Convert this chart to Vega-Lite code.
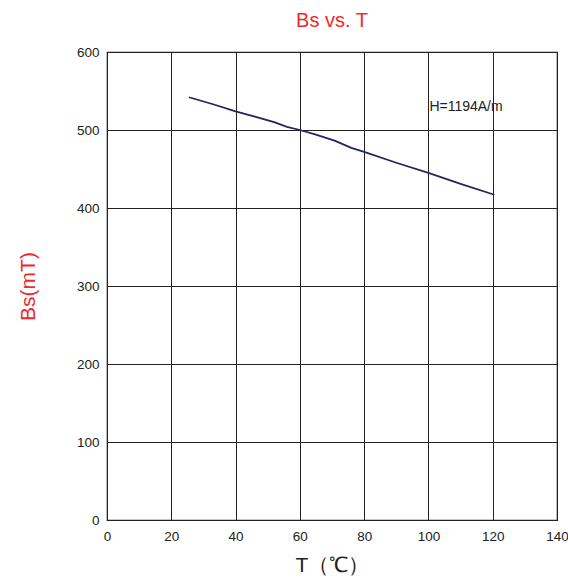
{
  "$schema": "https://vega.github.io/schema/vega-lite/v6.json",
  "autosize": "none",
  "padding": {"left": 107, "top": 52, "right": 11, "bottom": 64},
  "width": 450,
  "height": 468,
  "background": "white",
  "config": {
    "font": "Liberation Sans",
    "view": {"stroke": "#222", "strokeWidth": 1.2},
    "axis": {"gridColor": "#222", "gridOpacity": 1, "gridWidth": 1, "domain": false, "ticks": false, "labelFontSize": 13.5, "labelColor": "#222", "labelFont": "Liberation Sans", "labelFlush": false, "labelOverlap": false}
  },
  "title": {"text": "Bs vs. T", "color": "#ee2a2a", "fontSize": 20, "fontWeight": "normal", "offset": 14, "anchor": "middle", "font": "Liberation Sans"},
  "data": {"values": [
    {"T": 25.5, "Bs": 542},
    {"T": 33, "Bs": 533},
    {"T": 40, "Bs": 524},
    {"T": 46, "Bs": 517},
    {"T": 52, "Bs": 510},
    {"T": 56, "Bs": 504},
    {"T": 60, "Bs": 500},
    {"T": 65, "Bs": 494},
    {"T": 71, "Bs": 486},
    {"T": 76, "Bs": 477},
    {"T": 80, "Bs": 472},
    {"T": 90, "Bs": 458},
    {"T": 100, "Bs": 445},
    {"T": 110, "Bs": 431},
    {"T": 120.5, "Bs": 417}
  ]},
  "layer": [
    {
      "mark": {"type": "line", "color": "#23265e", "strokeWidth": 1.8},
      "encoding": {
        "x": {"field": "T", "type": "quantitative", "scale": {"domain": [0, 140], "nice": false}, "axis": {"values": [0, 20, 40, 60, 80, 100, 120, 140], "title": "T（℃）", "titleFontSize": 21, "titleFontWeight": "normal", "titleColor": "#222", "titlePadding": 12, "labelPadding": 9}},
        "y": {"field": "Bs", "type": "quantitative", "scale": {"domain": [0, 600], "nice": false}, "axis": {"values": [0, 100, 200, 300, 400, 500, 600], "title": "Bs(mT)", "titleFontSize": 21, "titleFontWeight": "normal", "titleColor": "#ee2a2a", "titlePadding": 38, "labelPadding": 8}}
      }
    },
    {
      "data": {"values": [{"T": 100.3, "Bs": 529, "label": "H=1194A/m"}]},
      "mark": {"type": "text", "align": "left", "baseline": "middle", "fontSize": 14, "color": "#222", "font": "Liberation Sans"},
      "encoding": {
        "x": {"field": "T", "type": "quantitative"},
        "y": {"field": "Bs", "type": "quantitative"},
        "text": {"field": "label"}
      }
    }
  ]
}
